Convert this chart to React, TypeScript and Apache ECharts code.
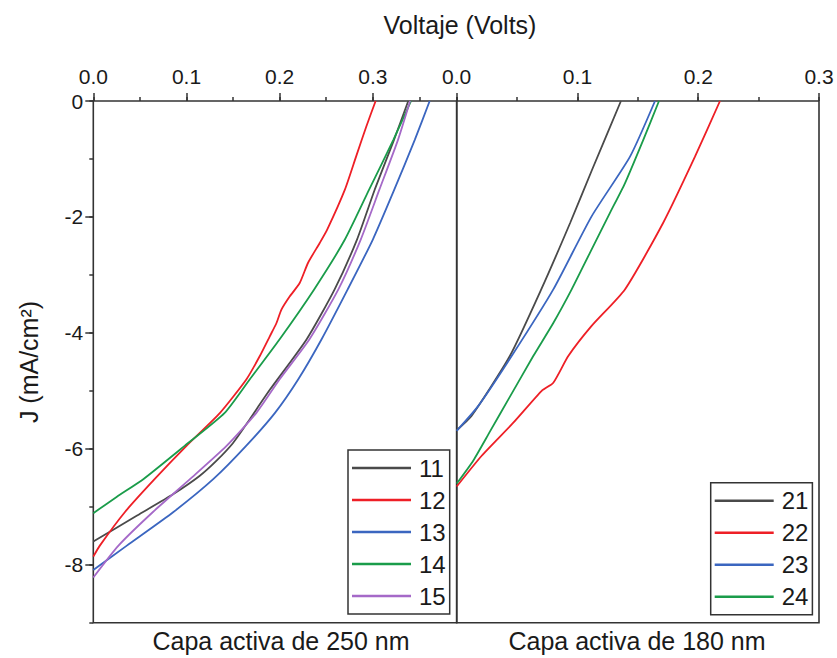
import React, { useEffect, useRef } from "react";
import * as echarts from "echarts";

// ---- data: [Voltage (V), J (mA/cm2)] ----
const s11 = [[0, -7.6], [0.047, -7.15], [0.086, -6.78], [0.114, -6.47], [0.132, -6.21], [0.15, -5.9], [0.168, -5.49], [0.178, -5.25], [0.19, -4.97], [0.229, -4.11], [0.259, -3.25], [0.283, -2.39], [0.302, -1.53], [0.322, -0.7], [0.338, 0]];
const s12 = [[0, -7.86], [0.007, -7.67], [0.034, -7.09], [0.066, -6.52], [0.1, -5.95], [0.136, -5.38], [0.1644, -4.8], [0.1787, -4.4], [0.1894, -4.06], [0.1966, -3.83], [0.2019, -3.6], [0.2109, -3.37], [0.2215, -3.14], [0.2305, -2.79], [0.243, -2.45], [0.251, -2.22], [0.27, -1.53], [0.282, -0.96], [0.293, -0.44], [0.303, 0]];
const s13 = [[0, -8.09], [0.036, -7.67], [0.086, -7.09], [0.129, -6.52], [0.164, -5.95], [0.195, -5.38], [0.22, -4.8], [0.245, -4.11], [0.273, -3.25], [0.3, -2.39], [0.323, -1.53], [0.345, -0.67], [0.361, 0]];
const s14 = [[0, -7.11], [0.025, -6.83], [0.054, -6.52], [0.098, -5.95], [0.141, -5.38], [0.168, -4.8], [0.2, -4.11], [0.237, -3.25], [0.27, -2.39], [0.296, -1.53], [0.322, -0.67], [0.341, 0]];
const s15 = [[0, -8.22], [0.027, -7.67], [0.064, -7.09], [0.104, -6.52], [0.143, -5.95], [0.175, -5.38], [0.2, -4.8], [0.232, -4.11], [0.263, -3.25], [0.287, -2.39], [0.307, -1.53], [0.327, -0.67], [0.34, 0]];

const s21 = [[0, -5.68], [0.0124, -5.43], [0.044, -4.4], [0.07, -3.25], [0.094, -2.1], [0.112, -1.19], [0.136, 0]];
const s22 = [[0, -6.65], [0.0207, -6.12], [0.0469, -5.55], [0.0704, -5.0], [0.08, -4.86], [0.0924, -4.4], [0.1117, -3.88], [0.1393, -3.25], [0.171, -2.1], [0.1973, -0.96], [0.218, 0]];
const s23 = [[0, -5.69], [0.0179, -5.26], [0.0455, -4.4], [0.08, -3.25], [0.1117, -1.99], [0.1435, -0.96], [0.1642, 0]];
const s24 = [[0, -6.6], [0.0138, -6.2], [0.0276, -5.7], [0.0441, -5.1], [0.0634, -4.4], [0.08, -3.83], [0.0952, -3.25], [0.1103, -2.62], [0.1269, -1.93], [0.1393, -1.42], [0.1545, -0.67], [0.1675, 0]];

const leftNames = ["11", "12", "13", "14", "15"];
const rightNames = ["21", "22", "23", "24"];
const leftSeries = [s11, s12, s13, s14, s15];
const rightSeries = [s21, s22, s23, s24];
const leftColors = ["#4a4a4a", "#ee1f26", "#3b66c0", "#1a9c4a", "#a569c8"];
const rightColors = ["#4a4a4a", "#ee1f26", "#3b66c0", "#1a9c4a"];

const yMajorTicks = [0, 2, 4, 6, 8];
const xTickLabelsLeft = [0, 0.1, 0.2, 0.3];

const FONT = "'Liberation Sans', Arial, sans-serif";
const AX = "#333333";

export default function App() {
  const ref = useRef<HTMLDivElement>(null);
  useEffect(() => {
    const chart = echarts.init(ref.current!, null, { renderer: "svg" });
    const gridCommon = { top: 101, height: 521.7, show: true, borderColor: AX, borderWidth: 1.6, backgroundColor: "transparent" };
    const hidden = { axisLine: { show: false }, splitLine: { show: false } };
    const majorTick = { show: true, length: 8, lineStyle: { color: AX, width: 1.5 } };
    const minorTick = { show: true, length: 4, lineStyle: { color: AX, width: 1.5 } };
    const xLabel = { fontSize: 21, color: "#1a1a1a", fontFamily: FONT, margin: 14, formatter: (v: number) => v.toFixed(1) };

    const series: any[] = [];
    leftSeries.forEach((d, i) => series.push({
      name: leftNames[i], type: "line", xAxisIndex: 0, yAxisIndex: 0, data: d,
      symbol: "none", smooth: 0.2, lineStyle: { color: leftColors[i], width: 1.8 }, itemStyle: { color: leftColors[i] },
    }));
    rightSeries.forEach((d, i) => series.push({
      name: rightNames[i], type: "line", xAxisIndex: 2, yAxisIndex: 3, data: d,
      symbol: "none", smooth: 0.2, lineStyle: { color: rightColors[i], width: 1.8 }, itemStyle: { color: rightColors[i] },
    }));

    const legendCommon = {
      orient: "vertical", padding: [6, 4, 6, 4], itemGap: 8, itemWidth: 59, itemHeight: 2.5, icon: "rect",
      borderColor: AX, borderWidth: 1.5, backgroundColor: "#fff",
      textStyle: { fontSize: 24, lineHeight: 24, color: "#1a1a1a", fontFamily: FONT, padding: [0, 0, 0, 3] },
    };

    chart.setOption({
      animation: false,
      backgroundColor: "#ffffff",
      grid: [
        { ...gridCommon, left: 93.3, width: 363.4 },
        { ...gridCommon, left: 456.7, width: 362.3 },
      ],
      xAxis: [
        { type: "value", gridIndex: 0, position: "top", min: 0, max: 0.39, interval: 0.1, ...hidden,
          axisTick: { ...majorTick, customValues: xTickLabelsLeft }, axisLabel: { ...xLabel, customValues: xTickLabelsLeft } },
        { type: "value", gridIndex: 0, position: "top", min: 0, max: 0.39, interval: 0.05, ...hidden,
          axisTick: minorTick, axisLabel: { show: false } },
        { type: "value", gridIndex: 1, position: "top", min: 0, max: 0.3, interval: 0.1, ...hidden,
          axisTick: majorTick, axisLabel: xLabel },
        { type: "value", gridIndex: 1, position: "top", min: 0, max: 0.3, interval: 0.05, ...hidden,
          axisTick: minorTick, axisLabel: { show: false } },
      ],
      yAxis: [
        { type: "value", gridIndex: 0, min: -9, max: 0, ...hidden, axisTick: { show: false }, axisLabel: { show: false } },
        { type: "value", gridIndex: 0, min: 0, max: 9, interval: 2, inverse: true, position: "left", ...hidden,
          axisTick: { ...majorTick, customValues: yMajorTicks },
          axisLabel: { fontSize: 21, color: "#1a1a1a", fontFamily: FONT, margin: 10, customValues: yMajorTicks,
            formatter: (v: number) => (v === 0 ? "0" : "-" + v) } },
        { type: "value", gridIndex: 0, min: -9, max: 0, interval: 1, position: "left", ...hidden,
          axisTick: minorTick, axisLabel: { show: false } },
        { type: "value", gridIndex: 1, min: -9, max: 0, ...hidden, axisTick: { show: false }, axisLabel: { show: false } },
      ],
      legend: [
        { ...legendCommon, left: 348, top: 450, data: leftNames },
        { ...legendCommon, left: 710.7, top: 482.7, data: rightNames },
      ],
      graphic: [
        { type: "text", x: 460, y: 25, style: { text: "Voltaje (Volts)", font: `25px ${FONT}`, fill: "#1a1a1a", align: "center", verticalAlign: "middle" } },
        { type: "text", x: 281, y: 641, style: { text: "Capa activa de 250 nm", font: `25px ${FONT}`, fill: "#1a1a1a", align: "center", verticalAlign: "middle" } },
        { type: "text", x: 637, y: 641, style: { text: "Capa activa de 180 nm", font: `25px ${FONT}`, fill: "#1a1a1a", align: "center", verticalAlign: "middle" } },
        { type: "text", x: 29, y: 362, rotation: Math.PI / 2, style: { text: "J (mA/cm²)", font: `25px ${FONT}`, fill: "#1a1a1a", align: "center", verticalAlign: "middle" } },
      ],
      series,
    });
    return () => chart.dispose();
  }, []);
  return <div ref={ref} style={{ position: "fixed", left: 0, top: 0, width: 837, height: 658, background: "#fff" }} />;
}
